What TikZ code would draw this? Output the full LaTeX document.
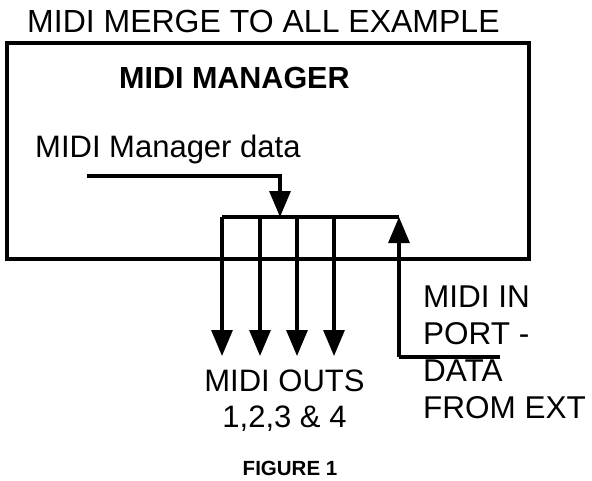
\documentclass[tikz,border=0pt]{standalone}
\usepackage{fontspec}
\setmainfont{Liberation Sans}
\usetikzlibrary{arrows.meta}

\tikzset{
    wire/.style={line width=3.2pt},
    flow/.style={line width=3.2pt, -{Triangle[length=26pt,width=21pt]}},
    label/.style={inner sep=0pt, font=\fontsize{31}{36}\selectfont}
}

\begin{document}
\begin{tikzpicture}[x=1pt, y=-1pt]
    \useasboundingbox (0,0) rectangle (592,480);

    % Title
    \node[label, anchor=base west, font=\fontsize{32}{36}\selectfont] (title) at (27,32) {MIDI MERGE TO ALL EXAMPLE};

    % Manager box
    \node[draw, wire, minimum width=522pt, minimum height=216pt, inner sep=0pt] (mgr) at (268,151) {};
    \node[label, anchor=base west, font=\fontsize{30.5}{36}\selectfont\bfseries] (mgrname) at (119,88) {MIDI MANAGER};
    \node[label, anchor=base west] (mgrdata) at (35,157) {MIDI Manager data};

    % Manager data into the bus
    \coordinate (datastart) at (87,176);
    \coordinate (datain) at (280,217);
    \draw[flow] (datastart) -| (datain);

    % Bus and the four outs
    \coordinate (busleft) at (222,217);
    \coordinate (busright) at (399,217);
    \draw[wire] (busleft) -- (busright);
    \foreach \i/\x in {1/222, 2/260, 3/297, 4/334} {
        \coordinate (tap\i) at (\x,217);
        \coordinate (out\i) at (\x,356);
        \draw[flow] (tap\i) -- (out\i);
    }
    \node[label, anchor=north, align=center] (outs) at (284.5,370) {MIDI OUTS\\1,2,3 \& 4};

    % MIDI in from outside
    \coordinate (inend) at (500,357);
    \coordinate (incorner) at (399,357);
    \draw[wire] (inend) -- (incorner);
    \draw[flow] (incorner) -- (busright);
    \node[label, anchor=north west, align=left, font=\fontsize{31.5}{37}\selectfont] (inport) at (423,286) {MIDI IN\\PORT -\\DATA\\FROM EXT};

    % Caption
    \node[label, anchor=base, font=\fontsize{20.5}{24}\selectfont\bfseries] (caption) at (290,475) {FIGURE 1};
\end{tikzpicture}
\end{document}
